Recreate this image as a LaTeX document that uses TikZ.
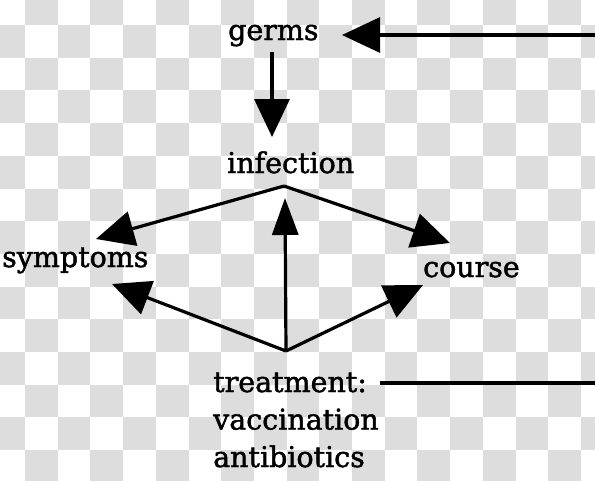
\documentclass[tikz,border=0pt]{standalone}
\usepackage{fontspec}
\setmainfont{DejaVu Serif}[BoldFont=DejaVu Serif,BoldFeatures={FakeBold=1.6}]
\usetikzlibrary{arrows.meta}
\definecolor{checkgray}{RGB}{221,221,221}
\begin{document}
\begin{tikzpicture}[x=1pt,y=-1pt,
  lbl/.style={inner sep=0pt,anchor=base west,font=\fontsize{28.5}{37.5}\selectfont\bfseries},
  conn/.style={line width=3.2pt},
  arr/.style={conn,-{Triangle[length=38pt,width=35pt]}},
  narrowarr/.style={conn,-{Triangle[length=37pt,width=26pt]}}]
\useasboundingbox (0,0) rectangle (595,480);
% transparency checkerboard
\begin{scope}
\clip (0,0) rectangle (595,480);
\fill[white] (0,0) rectangle (595,480);
\foreach \i in {0,...,18}{
  \foreach \j in {0,...,15}{
    \pgfmathtruncatemacro\cellpar{mod(\i+\j,2)}
    \ifnum\cellpar=1
      \fill[checkgray] ({-7.7+32.7*\i},{-7.7+32.7*\j}) rectangle ++(32.7,32.7);
    \fi
  }
}
\end{scope}
% texts
\node[lbl] (germs) at (228,40) {germs};
\node[lbl] (infection) at (227,173) {infection};
\node[lbl] (symptoms) at (2,267) {symptoms};
\node[lbl] (course) at (423,277) {course};
\node[lbl,align=left,text width=200pt] (treatment) at (213,392) {treatment:\\vaccination\\antibiotics};
% junctions and arrow tips
\coordinate (fbR) at (595,35);
\coordinate (fbTip) at (342,35);
\coordinate (gFoot) at (272,52);
\coordinate (gTip) at (272,137);
\coordinate (infHub) at (284,186);
\coordinate (sympTip) at (96,239);
\coordinate (courseTip) at (450,243);
\coordinate (trHub) at (286,351);
\coordinate (infTip) at (285,198);
\coordinate (sympTip2) at (112,284);
\coordinate (courseTip2) at (423,285);
\coordinate (trLineL) at (380,383);
\coordinate (trLineR) at (595,383);
% connectors
\draw[arr] (fbR) -- (fbTip);
\draw[arr] (gFoot) -- (gTip);
\draw[arr] (infHub) -- (sympTip);
\draw[arr] (infHub) -- (courseTip);
\draw[narrowarr] (trHub) -- (infTip);
\draw[arr] (trHub) -- (sympTip2);
\draw[arr] (trHub) -- (courseTip2);
\draw[conn] (trLineL) -- (trLineR);
\end{tikzpicture}
\end{document}
